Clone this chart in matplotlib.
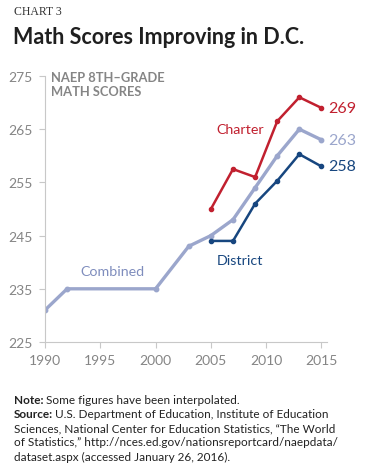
import matplotlib
matplotlib.use("Agg")
import matplotlib.pyplot as plt
from matplotlib.transforms import offset_copy

years_combined = [1990, 1992, 2000, 2003, 2005, 2007, 2009, 2011, 2013, 2015]
combined = [231, 235, 235, 243, 245, 248, 254, 260, 265, 263]
years_sub = [2005, 2007, 2009, 2011, 2013, 2015]
charter = [250, 257.5, 256, 266.5, 271, 269]
district = [244, 244, 251, 255.3, 260.3, 258]
x_ticks = [1990, 1995, 2000, 2005, 2010, 2015]
y_ticks = [225, 235, 245, 255, 265, 275]

C_COMB = "#9ba6cc"
C_CHART = "#c1202f"
C_DIST = "#17467f"
GRAY = "#858585"
SPINE = "#c8c8c8"

plt.rcParams['font.family'] = ['Lato', 'DejaVu Sans']

fig = plt.figure(figsize=(3.72, 4.77), dpi=100)
ax = fig.add_axes([45/372, 1-343/477, 282/372, 266/477])

ax.plot(years_combined, combined, color=C_COMB, lw=2.4, marker='o', ms=3.2, solid_capstyle='round')
ax.plot(years_sub, district, color=C_DIST, lw=1.8, marker='o', ms=3.0)
ax.plot(years_sub, charter, color=C_CHART, lw=1.8, marker='o', ms=3.0)

ax.set_xlim(1990, 2015.5)
ax.set_ylim(225, 275)
ax.set_xticks(x_ticks)
ax.set_yticks(y_ticks)
ax.tick_params(axis='both', colors=SPINE, labelcolor=GRAY, labelsize=10, length=4, width=0.8)
ax.tick_params(axis='y', pad=5)
ax.tick_params(axis='x', pad=5)
for s in ['top', 'right']:
    ax.spines[s].set_visible(False)
for s in ['left', 'bottom']:
    ax.spines[s].set_color(SPINE)
    ax.spines[s].set_linewidth(0.8)
ax.patch.set_alpha(0)

ax.text(1990.5, 275.9, "NAEP 8TH\u2013GRADE\nMATH SCORES", color=GRAY, fontsize=9.3,
        fontweight='bold', va='top', ha='left', linespacing=1.15)
ax.text(2005.5, 265.1, "Charter", color=C_CHART, fontsize=10.3, ha='left', va='center')
ax.text(2005.5, 240.5, "District", color=C_DIST, fontsize=10.3, ha='left', va='center')
ax.text(1993.2, 238.3, "Combined", color="#7f8dbd", fontsize=10.3, ha='left', va='center')
for val, col in [(charter[-1], C_CHART), (combined[-1], C_COMB), (district[-1], C_DIST)]:
    t = ax.text(2015.65, val, f"{round(val)}", color=col, fontsize=11.5, ha='left', va='center')
    t.set_clip_on(False)

fig.text(14/372, 1-12/477, "CHART 3", family=['Liberation Serif', 'DejaVu Serif'], fontsize=8.5,
         color="#333333", va='center', ha='left')
fig.text(13/372, 1-38/477, "Math Scores Improving in D.C.", fontsize=15.5, fontweight='bold',
         color="#1f1f1f", va='center', ha='left')

FS = 8.5
renderer = fig.canvas.get_renderer()
def labelled(y, bold, rest):
    b = fig.text(14/372, 1-y/477, bold, fontsize=FS, fontweight='bold', color="#222222", va='center')
    w = b.get_window_extent(renderer=renderer).width
    tr = offset_copy(fig.transFigure, fig=fig, x=w*72/fig.dpi + 1.5, y=0, units='points')
    fig.text(14/372, 1-y/477, rest, fontsize=FS, color="#222222", va='center', transform=tr)

labelled(401, "Note:", "Some figures have been interpolated.")
labelled(415, "Source:", "U.S. Department of Education, Institute of Education")
for y, line in [(429, "Sciences, National Center for Education Statistics, \u201cThe World"),
                (443, "of Statistics,\u201d http://nces.ed.gov/nationsreportcard/naepdata/"),
                (457, "dataset.aspx (accessed January 26, 2016).")]:
    fig.text(14/372, 1-y/477, line, fontsize=FS, color="#222222", va='center')

fig.savefig("out.png", dpi=100)
